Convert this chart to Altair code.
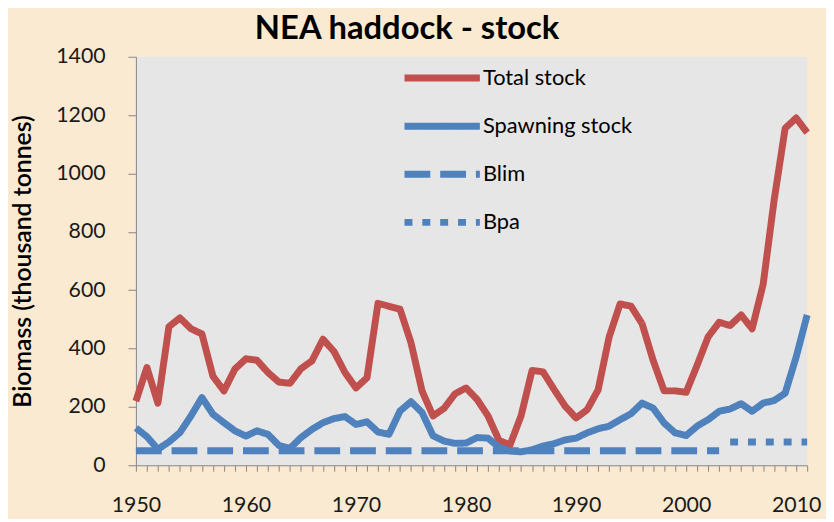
import altair as alt
import pandas as pd

# ---- data ----
years = list(range(1950, 2012))
total_stock = [220, 335, 213, 475, 505, 468, 450, 305, 255, 330,
               365, 360, 318, 285, 281, 331, 358, 432, 390, 318,
               265, 300, 555, 545, 535, 420, 255, 169, 195, 245,
               265, 226, 169, 85, 70, 169, 325, 320, 260, 203,
               162, 190, 258, 439, 553, 545, 485, 360, 255, 255,
               250, 343, 440, 490, 479, 515, 468, 620, 909, 1155,
               1190, 1140]
spawning_stock = [128, 98, 55, 80, 112, 169, 232, 175, 146, 118,
                  100, 118, 106, 68, 58, 95, 123, 146, 160, 167,
                  140, 149, 114, 106, 186, 218, 181, 101, 83, 75,
                  76, 95, 93, 61, 49, 46, 53, 66, 74, 87,
                  93, 111, 125, 134, 156, 177, 213, 196, 145, 111,
                  102, 134, 156, 185, 193, 211, 185, 213, 222, 247,
                  371, 515]
blim_years = [1950, 2003]
blim_value = 50
bpa_years = [2004, 2011]
bpa_value = 80

series_names = ["Total stock", "Spawning stock", "Blim", "Bpa"]
series_colors = ["#C0504D", "#4F81BD", "#4F81BD", "#4F81BD"]
series_dashes = [[1, 0], [1, 0], [26, 10], [8, 10]]
y_ticks = list(range(0, 1401, 200))

rows = []
for yr, v in zip(years, total_stock):
    rows.append({"year": yr, "value": v, "series": "Total stock"})
for yr, v in zip(years, spawning_stock):
    rows.append({"year": yr, "value": v, "series": "Spawning stock"})
for yr in blim_years:
    rows.append({"year": yr, "value": blim_value, "series": "Blim"})
for yr in bpa_years:
    rows.append({"year": yr, "value": bpa_value, "series": "Bpa"})
df = pd.DataFrame(rows)

FONT = "Lato"
AXIS_GRAY = "#868686"

leg = alt.Legend(
    title=None, orient="none", legendX=267, legendY=10,
    symbolType="M-1,0H9", symbolSize=231, symbolStrokeWidth=7,
    labelFont=FONT, labelFontSize=22, labelColor="#000000",
    rowPadding=19.5, labelOffset=60,
)

chart = alt.Chart(df).mark_line(
    strokeWidth=7, strokeCap="butt", strokeJoin="round"
).encode(
    x=alt.X("year:Q",
            scale=alt.Scale(domain=[1950, 2011], nice=False, zero=False),
            axis=alt.Axis(title=None, values=years, format="d",
                          labelExpr="datum.value % 10 === 0 ? datum.label : ''",
                          labelOverlap=False, labelFlush=False, labelFont=FONT,
                          labelFontSize=21.5, labelColor="#1a1a1a", labelPadding=24,
                          tickSize=6, tickColor=AXIS_GRAY, domainColor=AXIS_GRAY,
                          grid=False)),
    y=alt.Y("value:Q",
            scale=alt.Scale(domain=[0, 1400], nice=False),
            axis=alt.Axis(title="Biomass (thousand tonnes)", values=y_ticks,
                          format="d",
                          labelFont=FONT, labelFontSize=21.5, labelColor="#1a1a1a",
                          labelPadding=23, tickSize=8, tickColor=AXIS_GRAY,
                          domainColor=AXIS_GRAY, grid=False,
                          titleFont=FONT, titleFontSize=25, titleFontWeight=600,
                          titleColor="#000000", titlePadding=20)),
    color=alt.Color("series:N",
                    scale=alt.Scale(domain=series_names, range=series_colors),
                    legend=leg),
    strokeDash=alt.StrokeDash("series:N",
                              scale=alt.Scale(domain=series_names, range=series_dashes),
                              legend=leg),
).properties(
    width=677, height=412,
    background="#FBEAD2",
    padding={"left": 3, "top": 3, "right": 5, "bottom": 0},
    title=alt.TitleParams("NEA haddock - stock", font=FONT, fontSize=33,
                          fontWeight="bold", color="#000000", anchor="middle",
                          offset=0, dx=-65),
).configure_view(fill="#E6E6E6", strokeWidth=0)

chart.save("out.html", embed_options={"renderer": "svg", "actions": False})
